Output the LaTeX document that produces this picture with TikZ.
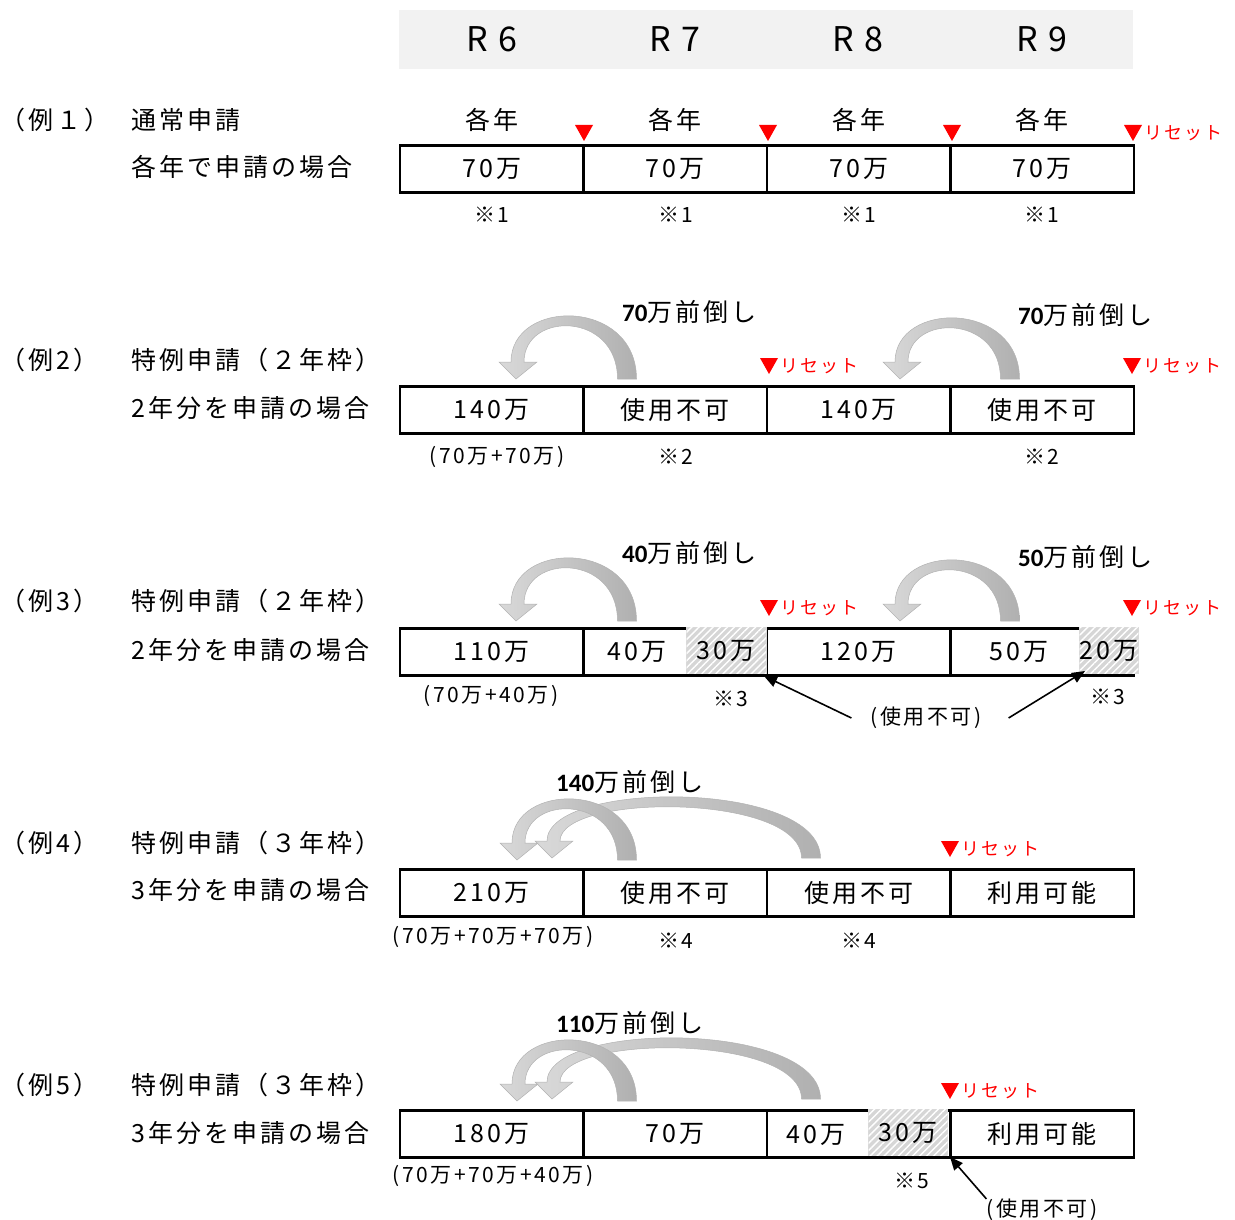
\documentclass[tikz,border=0pt]{standalone}
\usepackage{fontspec}
\setmainfont{Noto Sans CJK JP}[LetterSpace=12]
\newfontfamily\calib{Carlito}
\usetikzlibrary{arrows.meta,patterns.meta}
\definecolor{hdr}{HTML}{F2F2F2}
\newcommand\szHead{\fontsize{34}{40}\selectfont}
\newcommand\szMain{\fontsize{25}{30}\selectfont}
\newcommand\szSmall{\fontsize{21}{25}\selectfont}
\newcommand\szRed{\fontsize{18}{22}\selectfont}
% #1 tail centre x, #2 tip x, #3 base y, #4 top y
\newcommand\bentarrow[4]{%
  \path[arrowfill]
   ({#1+9.5},#3)
   .. controls ({#1+9.5},{(#4-(2*#3-17)/8)/0.75}) and ({#2-5},{(#4-(2*#3-17)/8)/0.75}) .. ({#2-5},{#3-17})
   -- ({#2-17},{#3-17}) -- (#2,#3) -- ({#2+21},{#3-17}) -- ({#2+8},{#3-17})
   .. controls ({#2+8},{(#4+10-(2*#3-17)/8)/0.75}) and ({#1-9.5},{(#4+10-(2*#3-17)/8)/0.75}) .. ({#1-9.5},#3)
   -- cycle;}
\tikzset{
  lbl/.style={inner sep=0pt, font=\szMain, anchor=west},
  main/.style={inner sep=0pt, font=\szMain},
  cell/.style={draw, line width=2.5pt, minimum width=183.5pt, minimum height=47pt, inner sep=0pt, font=\szMain},
  note/.style={inner sep=0pt, font=\szSmall},
  resettxt/.style={inner sep=0pt, font=\szRed, text=red, anchor=west},
  fwd/.style={inner sep=0pt, font=\szMain, anchor=west},
  hatchbox/.style={draw=gray!30, line width=1pt, fill=gray!32, inner sep=0pt, font=\szMain, anchor=north west,
     postaction={pattern={Lines[angle=45,distance=5pt,line width=1.4pt]}, pattern color=white}},
  ptr/.style={line width=1.6pt, -{Triangle[length=13pt,width=11pt]}},
  arrowfill/.style={draw=gray!60, line width=0.5pt, left color=gray!30, right color=gray!62},
  rmark/.pic={\fill[red] (-9,-8) -- (9,-8) -- (0,8) -- cycle;}
}
\begin{document}
\begin{tikzpicture}[x=1pt,y=-1pt]
\path[use as bounding box] (0,0) rectangle (1235,1220);
% header
\node[fill=hdr, minimum width=734pt, minimum height=59pt, inner sep=0pt, anchor=north west] (band) at (399,10) {};
\node[font=\szHead, inner sep=0pt] (r6) at (492,39) {R\hspace{0.3em}6};
\node[font=\szHead, inner sep=0pt] (r7) at (675,39) {R\hspace{0.3em}7};
\node[font=\szHead, inner sep=0pt] (r8) at (858,39) {R\hspace{0.3em}8};
\node[font=\szHead, inner sep=0pt] (r9) at (1042,39) {R\hspace{0.3em}9};

% ---------- row 1
\node[lbl] (ex1) at (0,120) {（例１）};
\node[lbl] (t1a) at (131,120) {通常申請};
\node[lbl] (t1b) at (131,167) {各年で申請の場合};
\node[main] (y1) at (492,120) {各年};
\node[main] (y2) at (675,120) {各年};
\node[main] (y3) at (859,120) {各年};
\node[main] (y4) at (1042,120) {各年};
\pic at (584,133) {rmark};
\pic at (768,133) {rmark};
\pic at (952,133) {rmark};
\pic at (1133,133) {rmark};
\node[resettxt] (rs1) at (1144,133) {リセット};
\node[cell] (c11) at (491.75,169) {70万};
\node[cell] (c12) at (675.25,169) {70万};
\node[cell] (c13) at (858.75,169) {70万};
\node[cell] (c14) at (1042.25,169) {70万};
\node[note] (n11) at (492,215) {※1};
\node[note] (n12) at (676,215) {※1};
\node[note] (n13) at (859,215) {※1};
\node[note] (n14) at (1042,215) {※1};

% ---------- row 2
\node[lbl] (ex2) at (0,360) {（例2）};
\node[lbl] (t2a) at (131,360) {特例申請（２年枠）};
\node[lbl] (t2b) at (131,408) {2年分を申請の場合};
\bentarrow{627}{516}{379}{316}
\bentarrow{1010}{900}{379}{318}
\node[fwd] (f2a) at (622,312) {{\calib\bfseries 70}万前倒し};
\node[fwd] (f2b) at (1018,315) {{\calib\bfseries 70}万前倒し};
\pic at (769,366) {rmark};
\node[resettxt] (rs2a) at (780,366) {リセット};
\pic at (1132,366) {rmark};
\node[resettxt] (rs2b) at (1143,366) {リセット};
\node[cell] (c21) at (491.75,410) {140万};
\node[cell] (c22) at (675.25,410) {使用不可};
\node[cell] (c23) at (858.75,410) {140万};
\node[cell] (c24) at (1042.25,410) {使用不可};
\node[note] (n21) at (497,457) {(70万+70万)};
\node[note] (n22) at (676,457) {※2};
\node[note] (n24) at (1042,457) {※2};

% ---------- row 3
\node[lbl] (ex3) at (0,601) {（例3）};
\node[lbl] (t3a) at (131,601) {特例申請（２年枠）};
\node[lbl] (t3b) at (131,650) {2年分を申請の場合};
\bentarrow{627}{516}{621}{558}
\bentarrow{1010}{900}{621}{560}
\node[fwd] (f3a) at (622,553) {{\calib\bfseries 40}万前倒し};
\node[fwd] (f3b) at (1018,557) {{\calib\bfseries 50}万前倒し};
\pic at (769,608) {rmark};
\node[resettxt] (rs3a) at (780,608) {リセット};
\pic at (1132,608) {rmark};
\node[resettxt] (rs3b) at (1143,608) {リセット};
\node[cell] (c31) at (491.75,652) {110万};
\node[cell] (c32) at (675.25,652) {};
\node[cell] (c33) at (858.75,652) {120万};
\node[cell] (c34) at (1042.25,652) {};
\node[main] (v32) at (637,652) {40万};
\node[hatchbox, minimum width=79.5pt, minimum height=46pt] (h3a) at (686,627) {30万};
\node[main] (v34) at (1019,652) {50万};
\node[hatchbox, minimum width=55pt, minimum height=46pt] (h3b) at (1079,627) {20万};
\node[note] (n31) at (491,696) {(70万+40万)};
\node[note] (n32) at (731,699) {※3};
\node[note] (n34) at (1108,697) {※3};
\node[note, inner xsep=19pt] (nu3) at (926,718) {(使用不可)};
\coordinate (t3x) at (764,676);
\coordinate (t3y) at (1085,671);
\draw[ptr] (nu3.west) -- (t3x);
\draw[ptr] ([xshift=8pt]nu3.east) -- (t3y);

% ---------- row 4
\node[lbl] (ex4) at (0,843) {（例4）};
\node[lbl] (t4a) at (131,843) {特例申請（３年枠）};
\node[lbl] (t4b) at (131,890) {3年分を申請の場合};
\bentarrow{811}{552}{858}{797}
\bentarrow{627}{517}{860}{799}
\node[fwd] (f4) at (556,782) {{\calib\bfseries 140}万前倒し};
\pic at (950,849) {rmark};
\node[resettxt] (rs4) at (961,849) {リセット};
\node[cell] (c41) at (491.75,893) {210万};
\node[cell] (c42) at (675.25,893) {使用不可};
\node[cell] (c43) at (858.75,893) {使用不可};
\node[cell] (c44) at (1042.25,893) {利用可能};
\node[note] (n41) at (493,937) {(70万+70万+70万)};
\node[note] (n42) at (676,941) {※4};
\node[note] (n43) at (859,941) {※4};

% ---------- row 5
\node[lbl] (ex5) at (0,1085) {（例5）};
\node[lbl] (t5a) at (131,1085) {特例申請（３年枠）};
\node[lbl] (t5b) at (131,1133) {3年分を申請の場合};
\bentarrow{811}{552}{1099}{1038}
\bentarrow{627}{517}{1101}{1040}
\node[fwd] (f5) at (556,1023) {{\calib\bfseries 110}万前倒し};
\pic at (950,1091) {rmark};
\node[resettxt] (rs5) at (961,1091) {リセット};
\node[cell] (c51) at (491.75,1134) {180万};
\node[cell] (c52) at (675.25,1134) {70万};
\node[cell] (c53) at (858.75,1134) {};
\node[cell] (c54) at (1042.25,1134) {利用可能};
\node[main] (v53) at (816,1135) {40万};
\node[hatchbox, minimum width=79pt, minimum height=46pt] (h5) at (868,1109) {30万};
\node[note] (n51) at (493,1176) {(70万+70万+40万)};
\node[note] (n53) at (912,1181) {※5};
\node[note] (nu5) at (1042,1210) {(使用不可)};
\coordinate (t5x) at (950,1157);
\draw[ptr] (nu5.north west) -- (t5x);
\end{tikzpicture}
\end{document}
